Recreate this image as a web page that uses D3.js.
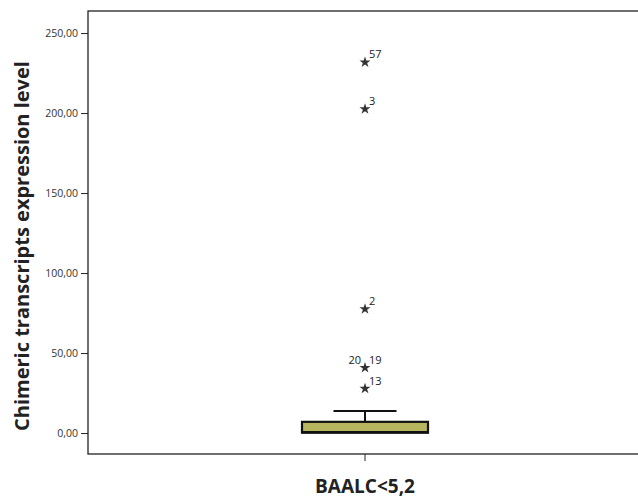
<!DOCTYPE html>
<html>
<head>
<meta charset="utf-8">
<script src="https://cdn.jsdelivr.net/npm/d3@7"></script>
<style>
  body { margin: 0; background: #fff; }
  svg { display: block; }
</style>
</head>
<body>
<svg id="chart" width="638" height="501"></svg>
<script>
// box statistics
var category = "BAALC<5,2";
var boxStats = [{ q1: 0.2, median: 0.6, q3: 7.0, whiskerLow: 0, whiskerHigh: 13.8 }];
// extreme values and their case numbers
var outlierValues = [231.8, 202.5, 77.5, 40.8, 27.8];
var outlierLabels = ["57", "3", "2", "20 19", "13"];
var yTicks = [0, 50, 100, 150, 200, 250];

var svg = d3.select("#chart"),
    margin = { top: 11, left: 88, right: -10, bottom: 47 },
    width = 638 - margin.left - margin.right,
    height = 501 - margin.top - margin.bottom;

var g = svg.append("g").attr("transform", "translate(" + margin.left + "," + margin.top + ")");

// y(0)=433, y(250)=33 in page coords
var y = d3.scaleLinear().domain([-13.1, 263.8]).range([height, 0]);
var x = d3.scaleBand().domain([category]).range([0, 554]);

var cx = x(category) + x.bandwidth() / 2;

// frame
g.append("rect")
  .attr("x", 0).attr("y", 0)
  .attr("width", width).attr("height", height)
  .attr("fill", "none").attr("stroke", "#222").attr("stroke-width", 1.3);

var yAxis = g.append("g")
  .call(d3.axisLeft(y).tickValues(yTicks).tickSize(7).tickFormat(function (d) {
    return d3.format(".2f")(d).replace(".", ",");
  }));
yAxis.select(".domain").remove();
yAxis.selectAll("line").attr("stroke", "#222");
yAxis.selectAll("text")
  .attr("fill", "#333")
  .style("font-family", "'Open Sans', sans-serif")
  .style("font-size", "10.5px");

var xAxis = g.append("g").attr("transform", "translate(0," + height + ")")
  .call(d3.axisBottom(x).tickSize(7).tickFormat(""));
xAxis.select(".domain").remove();
xAxis.selectAll("line").attr("stroke", "#222");

// box and whiskers
var boxW = 126, capW = 63;
var box = g.selectAll(".box").data(boxStats).enter().append("g");

box.append("line")
  .attr("x1", cx).attr("x2", cx)
  .attr("y1", function (d) { return y(d.q3); })
  .attr("y2", function (d) { return y(d.whiskerHigh); })
  .attr("stroke", "#111").attr("stroke-width", 2);
box.append("line")
  .attr("x1", cx - capW / 2).attr("x2", cx + capW / 2)
  .attr("y1", function (d) { return y(d.whiskerHigh); })
  .attr("y2", function (d) { return y(d.whiskerHigh); })
  .attr("stroke", "#111").attr("stroke-width", 2);
box.append("rect")
  .attr("x", cx - boxW / 2)
  .attr("y", function (d) { return y(d.q3); })
  .attr("width", boxW)
  .attr("height", function (d) { return y(d.q1) - y(d.q3); })
  .attr("fill", "#b7b55e").attr("stroke", "#111").attr("stroke-width", 2.2);
box.append("line")
  .attr("x1", cx - boxW / 2).attr("x2", cx + boxW / 2)
  .attr("y1", function (d) { return y(d.median); })
  .attr("y2", function (d) { return y(d.median); })
  .attr("stroke", "#111").attr("stroke-width", 2.2);

// extreme value stars
var star = d3.symbol().type(d3.symbolStar).size(38);
var pts = g.selectAll(".pt").data(outlierValues).enter().append("g")
  .attr("transform", function (d) { return "translate(" + cx + "," + y(d) + ")"; });
pts.append("path").attr("d", star).attr("fill", "#333");

pts.each(function (d, i) {
  var lab = outlierLabels[i].split(" ");
  var sel = d3.select(this);
  if (lab.length === 2) {
    sel.append("text").attr("x", -4).attr("y", -4).attr("text-anchor", "end").text(lab[0]);
    sel.append("text").attr("x", 4).attr("y", -4).text(lab[1]);
  } else {
    sel.append("text").attr("x", 4).attr("y", -4).text(lab[0]);
  }
});
pts.selectAll("text")
  .attr("fill", "#222")
  .style("font-family", "'Open Sans', sans-serif")
  .style("font-size", "11px");

// axis titles
svg.append("text")
  .attr("transform", "translate(29,246) rotate(-90)")
  .attr("text-anchor", "middle")
  .attr("fill", "#222")
  .style("font-family", "'Open Sans', sans-serif")
  .style("font-weight", "bold")
  .style("font-size", "20px")
  .text("Chimeric transcripts expression level");

svg.append("text")
  .attr("x", margin.left + cx).attr("y", 493)
  .attr("text-anchor", "middle")
  .attr("fill", "#222")
  .style("font-family", "'Open Sans', sans-serif")
  .style("font-weight", "bold")
  .style("font-size", "19px")
  .text(category);
</script>
</body>
</html>
